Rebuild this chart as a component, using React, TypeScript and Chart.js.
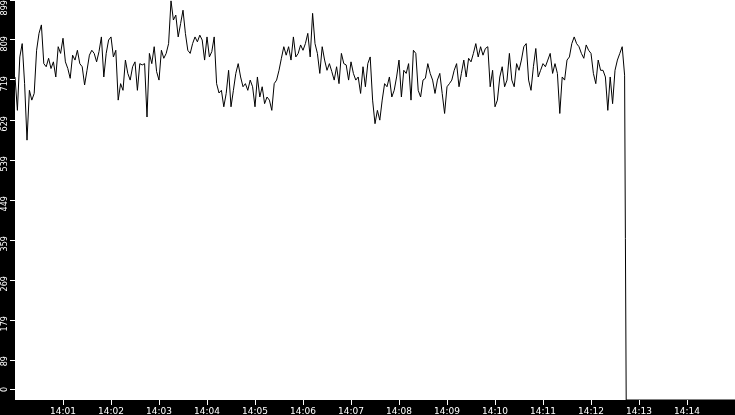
import React, { useEffect, useRef } from 'react'
import { Chart, registerables } from 'chart.js'

Chart.register(...registerables)

// one reading every 3 seconds, starting at 14:00:00
const sampleStep = 3
const readings = [
  726, 651, 771, 801, 711, 584, 696, 674, 689, 786,
  824, 843, 756, 749, 768, 745, 760, 726, 794, 779,
  813, 760, 745, 723, 775, 764, 786, 756, 749, 708,
  741, 775, 786, 779, 760, 783, 816, 726, 779, 809,
  816, 771, 786, 674, 711, 696, 764, 734, 719, 749,
  760, 696, 756, 753, 756, 636, 779, 756, 794, 738,
  719, 786, 768, 779, 801, 897, 854, 865, 816, 846,
  876, 824, 786, 779, 801, 816, 805, 820, 809, 764,
  816, 771, 783, 816, 711, 690, 696, 659, 689, 741,
  659, 696, 734, 756, 726, 704, 711, 696, 719, 704,
  659, 726, 681, 704, 666, 681, 674, 651, 711, 719,
  741, 768, 794, 775, 794, 764, 816, 771, 779, 798,
  786, 801, 824, 771, 869, 801, 779, 734, 794, 764,
  741, 756, 738, 719, 749, 711, 779, 756, 753, 719,
  760, 734, 719, 726, 689, 749, 704, 756, 771, 674,
  621, 651, 629, 674, 711, 704, 726, 681, 696, 726,
  764, 681, 741, 734, 756, 674, 786, 779, 696, 681,
  719, 723, 756, 734, 719, 689, 719, 734, 689, 644,
  704, 711, 719, 741, 756, 704, 734, 764, 726, 768,
  760, 779, 801, 771, 794, 775, 790, 794, 704, 741,
  659, 674, 726, 749, 704, 719, 779, 719, 704, 756,
  741, 764, 794, 801, 719, 696, 749, 790, 726, 741,
  756, 749, 764, 779, 734, 756, 734, 644, 726, 719,
  764, 771, 801, 816, 801, 794, 779, 768, 798, 786,
  779, 734, 711, 764, 741, 741, 726, 651, 726, 666,
  741, 764, 779, 794, 730,
]
// the drop at the end of the run (seconds after 14:00:00)
const tailSeconds = [763, 764, 900]
const tailValues = [363, 0, 0]

const xMax = 900
const xTickSeconds = [60, 120, 180, 240, 300, 360, 420, 480, 540, 600, 660, 720, 780, 840]
const xTickLabels = [
  '14:01', '14:02', '14:03', '14:04', '14:05', '14:06', '14:07',
  '14:08', '14:09', '14:10', '14:11', '14:12', '14:13', '14:14',
]
const yMax = 899
const yTickValues = [0, 89.9, 179.8, 269.7, 359.6, 449.5, 539.4, 629.3, 719.2, 809.1, 899]
const yTickLabels = ['0', '89', '179', '269', '359', '449', '539', '629', '719', '809', '899']

const yFont = "9px 'DejaVu Sans Condensed', 'DejaVu Sans'"

const backdrop = {
  id: 'backdrop',
  // eslint-disable-next-line @typescript-eslint/no-explicit-any
  beforeDraw(chart: any) {
    const { ctx, chartArea, width, height } = chart
    ctx.save()
    ctx.fillStyle = '#000'
    ctx.fillRect(0, 0, width, height)
    ctx.fillStyle = '#fff'
    ctx.fillRect(chartArea.left, chartArea.top, chartArea.right - chartArea.left, chartArea.bottom - chartArea.top)
    ctx.restore()
  }
}

// the first and last y labels are kept inside the axis strip
const edgeLabels = {
  id: 'edgeLabels',
  // eslint-disable-next-line @typescript-eslint/no-explicit-any
  afterDraw(chart: any) {
    const { ctx } = chart
    const scale = chart.scales.y
    const x = scale.right - 10
    const y0 = Math.round(scale.bottom - 11) + 0.5
    ctx.save()
    ctx.strokeStyle = '#fff'
    ctx.lineWidth = 1
    ctx.beginPath()
    ctx.moveTo(scale.right - 5, y0)
    ctx.lineTo(scale.right, y0)
    ctx.stroke()
    ctx.font = yFont
    ctx.fillStyle = '#fff'
    ctx.textBaseline = 'middle'

    ctx.save()
    ctx.translate(x, y0)
    ctx.rotate(-Math.PI / 2)
    ctx.textAlign = 'center'
    ctx.fillText(yTickLabels[0], 0, 0)
    ctx.restore()

    ctx.translate(x, scale.top)
    ctx.rotate(-Math.PI / 2)
    ctx.textAlign = 'right'
    ctx.fillText(yTickLabels[yTickLabels.length - 1], 0, 0)
    ctx.restore()
  }
}

// keep the axes flush with the canvas edges
// eslint-disable-next-line @typescript-eslint/no-explicit-any
const noPadding = (scale: any) => {
  scale.paddingLeft = 0
  scale.paddingRight = 0
  scale.paddingTop = 0
  scale.paddingBottom = 0
}

export default function App() {
  const canvasRef = useRef<HTMLCanvasElement>(null)

  useEffect(() => {
    if (!canvasRef.current) return
    const ctx = canvasRef.current.getContext('2d')
    if (!ctx) return

    const points = readings.map((v, i) => ({ x: i * sampleStep, y: v }))
    tailSeconds.forEach((s, i) => points.push({ x: s, y: tailValues[i] }))

    const lastY = yTickLabels.length - 1

    const chart = new Chart(ctx, {
      type: 'line',
      data: {
        datasets: [{
          data: points,
          borderColor: '#000',
          borderWidth: 1,
          pointRadius: 0,
          tension: 0,
          fill: false
        }]
      },
      options: {
        animation: false,
        responsive: false,
        events: [],
        layout: { padding: 0 },
        plugins: {
          legend: { display: false },
          tooltip: { enabled: false }
        },
        scales: {
          x: {
            type: 'linear',
            min: 0,
            max: xMax,
            afterFit: (scale) => { scale.height = 15; noPadding(scale) },
            afterBuildTicks: (scale) => { scale.ticks = xTickSeconds.map(v => ({ value: v })) },
            grid: { drawOnChartArea: false, tickLength: 5, tickColor: '#fff' },
            border: { display: false },
            ticks: {
              color: '#fff',
              font: { family: "'DejaVu Sans'", size: 9 },
              padding: 1,
              maxRotation: 0,
              autoSkip: false,
              callback: (_v, i) => xTickLabels[i]
            }
          },
          y: {
            type: 'linear',
            min: 0,
            max: yMax,
            afterFit: (scale) => { scale.width = 15; noPadding(scale) },
            afterBuildTicks: (scale) => { scale.ticks = yTickValues.map(v => ({ value: v })) },
            grid: {
              drawOnChartArea: false,
              tickLength: 5,
              tickColor: (c) => (c.index === 0 ? 'rgba(0,0,0,0)' : '#fff')
            },
            border: { display: false },
            ticks: {
              color: '#fff',
              font: { family: "'DejaVu Sans Condensed', 'DejaVu Sans'", size: 9 },
              padding: 5,
              minRotation: 90,
              maxRotation: 90,
              labelOffset: -4,
              autoSkip: false,
              callback: (_v, i) => (i === 0 || i === lastY ? '' : yTickLabels[i])
            }
          }
        }
      },
      plugins: [backdrop, edgeLabels]
    })

    return () => chart.destroy()
  }, [])

  return (
    <div style={{ position: 'fixed', left: 0, top: 0 }}>
      <canvas ref={canvasRef} width={735} height={415} />
    </div>
  )
}
